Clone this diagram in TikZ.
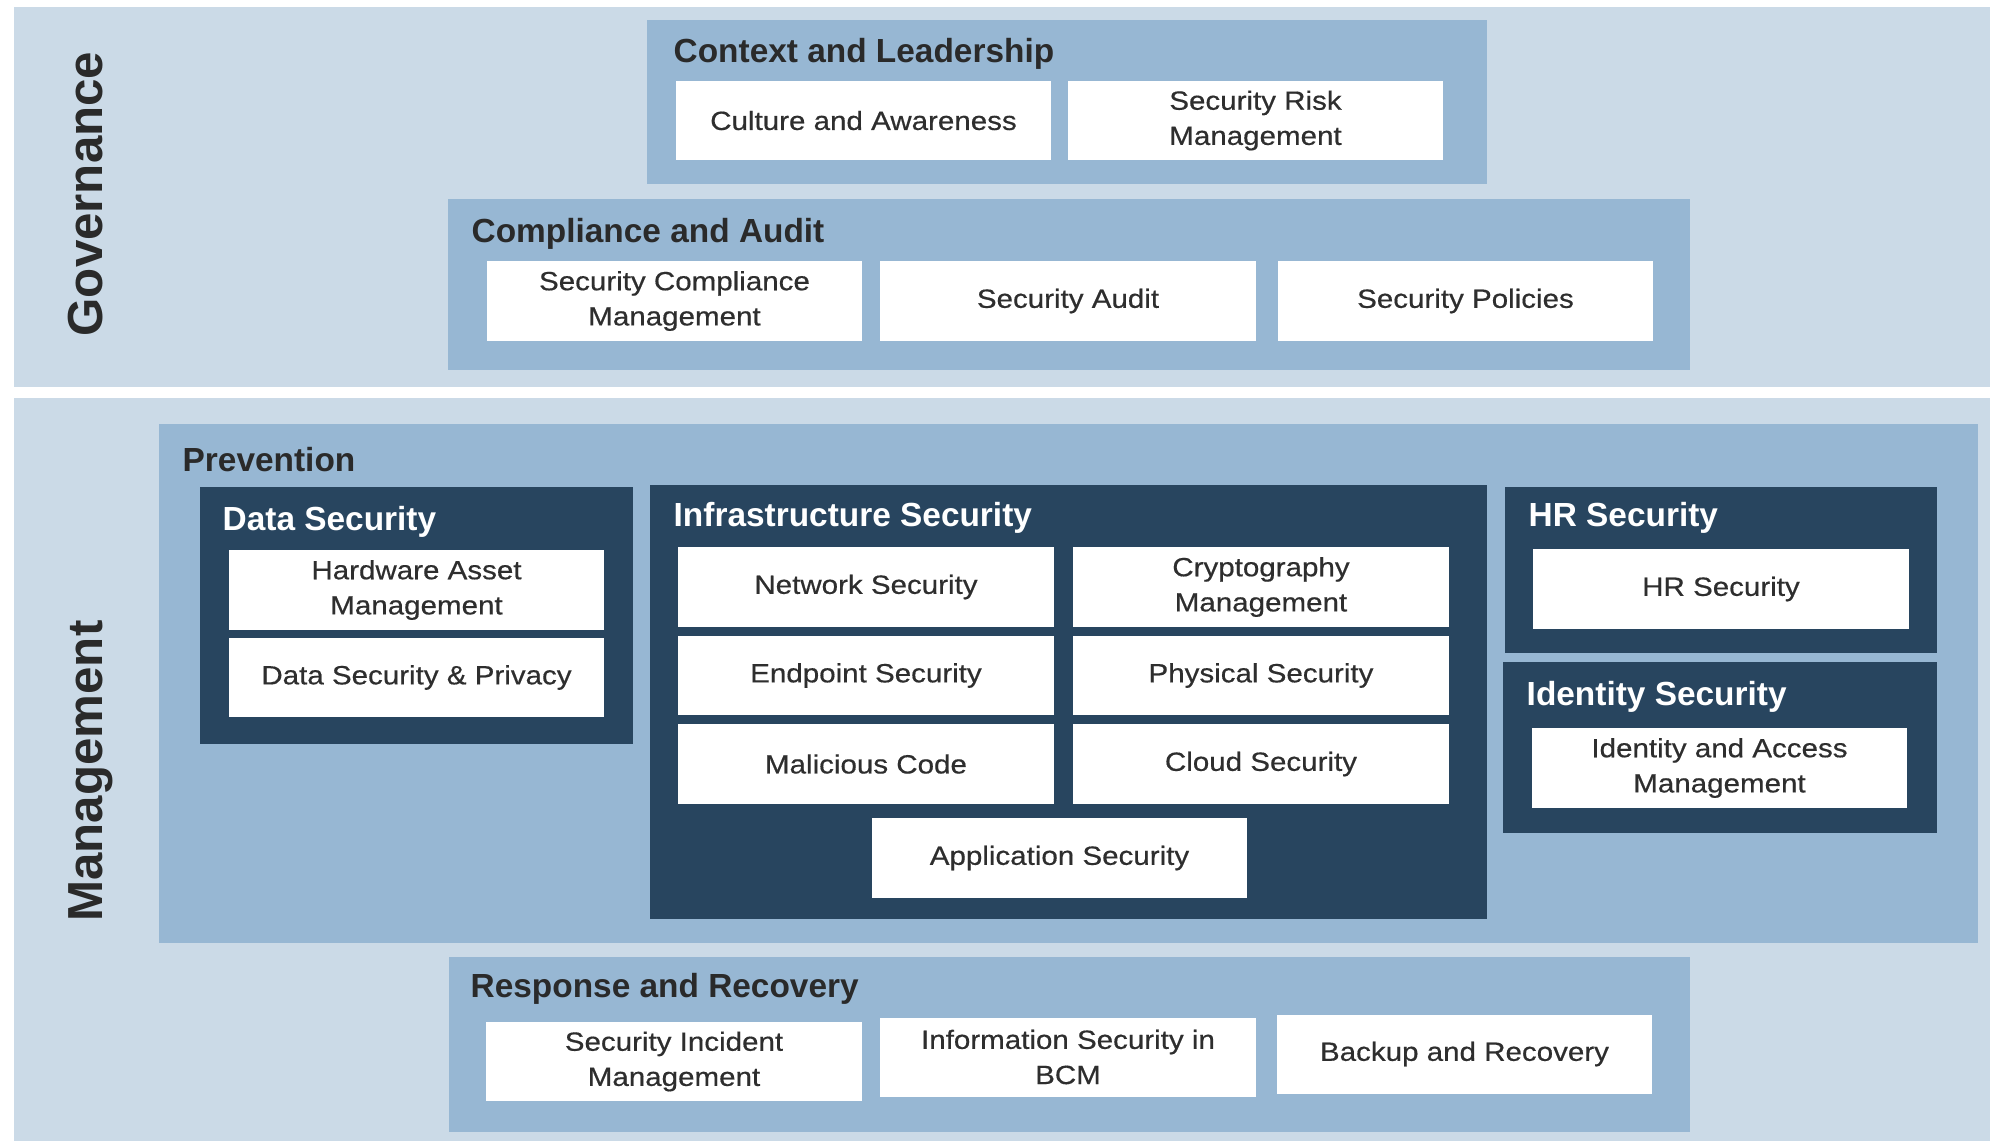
\documentclass[tikz,border=0pt]{standalone}
\usepackage{fontspec}
\setmainfont{Liberation Sans}
\newfontfamily\caixafont[FakeStretch=1.12,FakeBold=0.5]{Liberation Sans}
\usepackage{xcolor}
\usepackage{tikz}
\definecolor{blauclar}{HTML}{CBDAE7}
\definecolor{blaumig}{HTML}{97B7D3}
\definecolor{blaufosc}{HTML}{28455F}
\definecolor{gristext}{HTML}{2E2E2E}
\definecolor{grisfosc}{HTML}{2A2A2A}

\tikzset{
	caixa/.style={fill=white, inner sep=0pt, minimum width=3.75cm, minimum height=0.79cm,
		align=center, text=gristext, font=\caixafont\fontsize{7.5pt}{10pt}\selectfont},
	titol/.style={anchor=base west, inner sep=0pt, text=grisfosc,
		font=\bfseries\fontsize{9.5pt}{11pt}\selectfont},
	titolb/.style={titol, text=white},
	lateral/.style={rotate=90, anchor=base, inner sep=0pt, text=grisfosc,
		font=\bfseries\fontsize{14pt}{16pt}\selectfont}
}

\begin{document}
\begin{tikzpicture}[x=0.01cm,y=-0.01cm]
	\useasboundingbox (0,0) rectangle (1990,1141);
	% franges
	\fill [blauclar] (14,7) rectangle (1990,387);
	\fill [blauclar] (14,398) rectangle (1990,1141);
	\node [lateral] (gov) at (102,194) {Governance};
	\node [lateral] (man) at (102,771) {Management};
	% Context and Leadership
	\fill [blaumig] (647,20) rectangle (1487,184);
	\node [titol] (tcl) at (673,62) {Context and Leadership};
	\node [caixa] (cult) at (863.5,120.5) {Culture and Awareness};
	\node [caixa] (risk) at (1255.5,120.5) {Security Risk\\Management};
	% Compliance and Audit
	\fill [blaumig] (448,199) rectangle (1690,370);
	\node [titol] (tca) at (471,242) {Compliance and Audit};
	\node [caixa] (scm) at (674.5,301) {Security Compliance\\Management};
	\node [caixa] (audit) at (1068,301) {Security Audit};
	\node [caixa] (pol) at (1465.5,301) {Security Policies};
	% Prevention
	\fill [blaumig] (159,424) rectangle (1978,943);
	\node [titol] (tprev) at (182,471) {Prevention};
	% Data Security
	\fill [blaufosc] (200,487) rectangle (633,744);
	\node [titolb] (tds) at (222,530) {Data Security};
	\node [caixa] (hw) at (416.5,590) {Hardware Asset\\Management};
	\node [caixa] (dsp) at (416.5,677.5) {Data Security \& Privacy};
	% Infrastructure Security
	\fill [blaufosc] (650,485) rectangle (1487,919);
	\node [titolb] (tis) at (673,526) {Infrastructure Security};
	\node [caixa] (net) at (866,587) {Network Security};
	\node [caixa] (crypt) at (1261,587) {Cryptography\\Management};
	\node [caixa] (endp) at (866,675.5) {Endpoint Security};
	\node [caixa] (phys) at (1261,675.5) {Physical Security};
	\node [caixa] (mal) at (866,764) {Malicious Code};
	\node [caixa] (cloud) at (1261,764) {Cloud Security};
	\node [caixa] (app) at (1059.5,858) {Application Security};
	% HR Security
	\fill [blaufosc] (1505,487) rectangle (1937,653);
	\node [titolb] (thr) at (1528,526) {HR Security};
	\node [caixa] (hr) at (1721,589) {HR Security};
	% Identity Security
	\fill [blaufosc] (1503,662) rectangle (1937,833);
	\node [titolb] (tid) at (1526,705) {Identity Security};
	\node [caixa] (iam) at (1719.5,768) {Identity and Access\\Management};
	% Response and Recovery
	\fill [blaumig] (449,957) rectangle (1690,1132);
	\node [titol] (trr) at (470,997) {Response and Recovery};
	\node [caixa] (sim) at (674,1061.5) {Security Incident\\Management};
	\node [caixa] (bcm) at (1068,1057) {Information Security in\\BCM};
	\node [caixa] (back) at (1464.5,1054) {Backup and Recovery};
\end{tikzpicture}
\end{document}
